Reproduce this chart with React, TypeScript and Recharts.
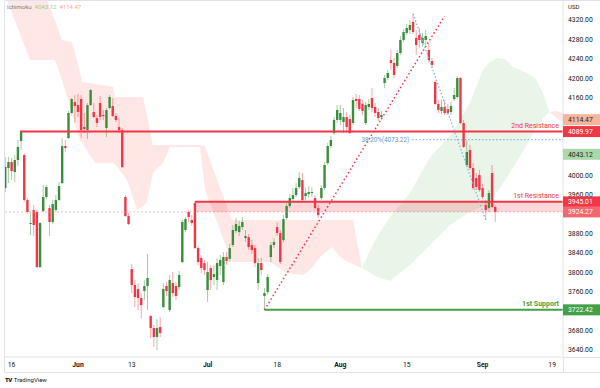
import React from 'react';
import { ComposedChart, Bar, Area, XAxis, YAxis, ReferenceLine, ReferenceArea } from 'recharts';

// ---------- candle data (two candles per trading day) ----------
const opens = [
  3973.5, 4014.8, 4027.2, 4006.6, 4031.3, 4070.5, 4041.6, 3948.8, 3899.3, 3928.2,
  3924.1, 3810.7, 3926.1, 3955.0, 3932.3, 3903.5, 3928.2, 3948.8, 3983.9, 4060.1,
  4076.6, 4128.2, 4150.9, 4144.7, 4157.1, 4099.3, 4093.1, 4144.7, 4130.3, 4117.9,
  4148.8, 4124.1, 4097.3, 4138.5, 4142.6, 4122.0, 4099.3, 4093.1, 3955.0, 3915.8,
  3806.5, 3773.5, 3765.3, 3746.7, 3761.2, 3771.5, 3709.6, 3684.9, 3666.4, 3687.0,
  3728.2, 3771.5, 3722.0, 3777.7, 3771.5, 3769.4, 3821.0, 3887.0, 3924.1, 3907.6,
  3942.6, 3849.8, 3829.2, 3818.9, 3763.2, 3808.6, 3790.1, 3783.8, 3812.7, 3779.7,
  3831.3, 3827.2, 3856.0, 3884.9, 3882.8, 3893.1, 3870.4, 3872.5, 3856.0, 3849.8,
  3777.7, 3818.9, 3750.9, 3759.1, 3831.3, 3856.0, 3893.1, 3880.8, 3866.3, 3911.7,
  3936.5, 3950.9, 3959.1, 3975.6, 3990.0, 3957.0, 3961.2, 3963.2, 3952.9, 3932.3,
  3952.9, 3973.5, 4025.1, 4060.1, 4086.9, 4113.8, 4113.8, 4109.6, 4120.0, 4115.8,
  4107.6, 4157.1, 4157.1, 4146.8, 4107.6, 4140.6, 4159.1, 4140.6, 4130.3, 4120.0,
  4190.1, 4200.4, 4237.5, 4231.3, 4225.1, 4251.9, 4278.7, 4293.2, 4299.3, 4315.8,
  4282.8, 4289.1, 4272.5, 4278.7, 4258.1, 4235.4, 4192.1, 4146.8, 4132.3, 4140.6,
  4136.4, 4130.3, 4157.1, 4161.2, 4200.4, 4107.6, 4021.0, 4051.9, 4014.8, 3994.2,
  4000.4, 3973.5, 3938.5, 3932.3, 4004.5, 3934.4,
];
const highs = [
  4037.5, 4037.5, 4035.4, 4041.6, 4072.5, 4093.1, 4045.7, 3952.9, 3924.1, 3938.5,
  3928.2, 3903.5, 3979.7, 3979.7, 3938.5, 3948.8, 3959.1, 3985.9, 4076.6, 4072.5,
  4132.3, 4159.1, 4165.3, 4167.4, 4165.3, 4128.2, 4148.8, 4177.7, 4148.8, 4124.1,
  4163.2, 4134.4, 4138.5, 4165.3, 4159.1, 4128.2, 4117.9, 4097.3, 3959.1, 3922.0,
  3816.8, 3783.8, 3777.7, 3757.0, 3783.8, 3837.5, 3711.7, 3691.1, 3703.5, 3707.6,
  3777.7, 3779.7, 3794.2, 3800.4, 3779.7, 3802.4, 3907.6, 3913.8, 3928.2, 3917.9,
  3946.7, 3853.9, 3835.4, 3825.1, 3821.0, 3814.8, 3814.8, 3829.2, 3835.4, 3841.6,
  3841.6, 3858.1, 3897.3, 3911.7, 3905.5, 3913.8, 3887.0, 3878.7, 3866.3, 3856.0,
  3829.2, 3829.2, 3767.4, 3796.2, 3862.2, 3870.4, 3903.5, 3887.0, 3917.9, 3942.6,
  3961.2, 3973.5, 3983.9, 4006.6, 4004.5, 3973.5, 3977.7, 3975.6, 3959.1, 3938.5,
  3979.7, 4027.2, 4066.3, 4080.8, 4120.0, 4144.7, 4144.7, 4138.5, 4130.3, 4124.1,
  4161.2, 4167.4, 4165.3, 4155.0, 4150.9, 4157.1, 4179.7, 4148.8, 4138.5, 4132.3,
  4206.6, 4216.9, 4258.1, 4241.6, 4258.1, 4287.0, 4301.4, 4311.7, 4320.0, 4332.3,
  4299.3, 4303.5, 4293.2, 4299.3, 4270.5, 4241.6, 4196.2, 4155.0, 4155.0, 4155.0,
  4146.8, 4150.9, 4179.7, 4204.5, 4202.5, 4113.8, 4072.5, 4062.2, 4025.1, 4004.5,
  4010.7, 3981.8, 3948.8, 3969.4, 4021.0, 3938.5,
];
const lows = [
  3965.3, 3983.9, 3990.0, 3985.9, 4019.0, 4051.9, 3944.7, 3920.0, 3876.7, 3874.6,
  3808.6, 3808.6, 3924.1, 3950.9, 3874.6, 3899.3, 3924.1, 3946.7, 3981.8, 4047.8,
  4074.6, 4124.1, 4107.6, 4120.0, 4076.6, 4086.9, 4074.6, 4142.6, 4117.9, 4099.3,
  4113.8, 4113.8, 4078.7, 4136.4, 4120.0, 4109.6, 4086.9, 4014.8, 3913.8, 3897.3,
  3757.0, 3728.2, 3722.0, 3705.5, 3742.6, 3722.0, 3664.3, 3645.7, 3639.5, 3666.4,
  3726.1, 3750.9, 3717.9, 3748.8, 3742.6, 3763.2, 3818.9, 3882.8, 3903.5, 3895.2,
  3847.8, 3814.8, 3798.3, 3794.2, 3738.5, 3763.2, 3773.5, 3763.2, 3794.2, 3773.5,
  3814.8, 3821.0, 3851.9, 3880.8, 3874.6, 3887.0, 3862.2, 3845.7, 3837.5, 3810.7,
  3763.2, 3794.2, 3722.4, 3752.9, 3821.0, 3849.8, 3874.6, 3816.8, 3862.2, 3907.6,
  3932.3, 3946.7, 3955.0, 3971.5, 3944.7, 3948.8, 3952.9, 3955.0, 3928.2, 3911.7,
  3948.8, 3969.4, 4021.0, 4056.0, 4082.8, 4107.6, 4103.5, 4086.9, 4089.0, 4084.9,
  4103.5, 4138.5, 4132.3, 4124.1, 4103.5, 4134.4, 4130.3, 4120.0, 4111.7, 4113.8,
  4179.7, 4196.2, 4216.9, 4200.4, 4221.0, 4247.8, 4274.6, 4289.1, 4291.1, 4291.1,
  4247.8, 4262.2, 4264.3, 4268.4, 4233.4, 4221.0, 4144.7, 4128.2, 4126.1, 4124.1,
  4124.1, 4124.1, 4152.9, 4157.1, 4105.5, 4056.0, 4016.9, 4010.7, 3969.4, 3969.4,
  3965.3, 3950.9, 3907.6, 3924.1, 3932.3, 3903.5,
];
const closes = [
  4016.9, 4027.2, 4008.6, 4031.3, 4058.1, 4089.0, 3948.8, 3924.1, 3901.4, 3897.3,
  3810.7, 3901.4, 3955.0, 3975.6, 3903.5, 3940.6, 3948.8, 3977.7, 4060.1, 4056.0,
  4128.2, 4157.1, 4142.6, 4130.3, 4093.1, 4095.2, 4144.7, 4175.6, 4120.0, 4107.6,
  4120.0, 4122.0, 4134.4, 4161.2, 4122.0, 4113.8, 4093.1, 4016.9, 3915.8, 3899.3,
  3773.5, 3748.8, 3746.7, 3732.3, 3771.5, 3788.0, 3684.9, 3666.4, 3684.9, 3674.6,
  3765.3, 3761.2, 3783.8, 3757.0, 3750.9, 3794.2, 3903.5, 3909.6, 3913.8, 3901.4,
  3849.8, 3821.0, 3808.6, 3804.5, 3800.4, 3783.8, 3796.2, 3818.9, 3825.1, 3831.3,
  3823.0, 3849.8, 3887.0, 3899.3, 3895.2, 3903.5, 3874.6, 3851.9, 3845.7, 3818.9,
  3818.9, 3804.5, 3757.0, 3790.1, 3856.0, 3862.2, 3880.8, 3821.0, 3909.6, 3936.5,
  3952.9, 3959.1, 3973.5, 3994.2, 3948.8, 3963.2, 3965.3, 3965.3, 3932.3, 3917.9,
  3973.5, 4021.0, 4060.1, 4072.5, 4113.8, 4134.4, 4128.2, 4120.0, 4099.3, 4086.9,
  4155.0, 4152.9, 4136.4, 4132.3, 4144.7, 4146.8, 4138.5, 4128.2, 4117.9, 4124.1,
  4200.4, 4210.7, 4231.3, 4206.6, 4251.9, 4278.7, 4295.2, 4303.5, 4309.7, 4295.2,
  4268.4, 4278.7, 4282.8, 4287.0, 4237.5, 4227.2, 4146.8, 4134.4, 4140.6, 4128.2,
  4128.2, 4142.6, 4165.3, 4200.4, 4107.6, 4058.1, 4047.8, 4014.8, 3973.5, 3975.6,
  3969.4, 3955.0, 3928.2, 3963.2, 3934.4, 3924.27,
];

// ---------- Ichimoku cloud vertices (x = candle index, incl. 26-bar lead) ----------
const bearCloud1Idx = [-0.4, 0.5, 7.8, 11.0, 13.2, 15.7, 17.9, 21.1, 23.6, 24.3, 28.4, 34.1, 34.7, 38.5, 41.7, 43.6, 44.8, 46.7, 49.9, 52.1, 61.6, 63.2, 71.7, 83.7, 89.1, 94.2, 96.4, 99.6, 103.4, 105.9, 109.0, 110.0, 112.8];
const bearCloud1SpanA = [4377.7, 4361.2, 4237.5, 4237.5, 4237.5, 4237.5, 4196.2, 4128.2, 4072.5, 4066.3, 4025.1, 4025.1, 4023.1, 3990.0, 3928.2, 3936.5, 3944.7, 4004.5, 4025.1, 4058.1, 4058.1, 3969.4, 3821.0, 3821.0, 3798.3, 3794.2, 3804.5, 3831.3, 3851.9, 3831.3, 3818.9, 3816.8, 3808.6];
const bearCloud1SpanB = [4423.1, 4416.9, 4392.2, 4381.8, 4361.2, 4320.0, 4278.7, 4274.6, 4212.8, 4192.1, 4188.0, 4181.8, 4161.2, 4161.2, 4161.2, 4161.2, 4124.1, 4062.2, 4062.2, 4062.2, 4062.2, 4058.1, 3907.6, 3907.6, 3907.6, 3907.6, 3907.6, 3907.6, 3907.6, 3907.6, 3907.6, 3907.6, 3808.6];

const bullCloudIdx = [112.8, 117.0, 121.7, 128.0, 134.4, 140.7, 147.0, 151.1, 153.3, 155.6, 158.1, 160.6, 164.4, 167.6, 170.1, 171.7, 172.3];
const bullCloudSpanA = [3808.6, 3866.3, 3913.8, 3963.2, 4037.5, 4080.8, 4148.8, 4216.9, 4233.4, 4241.6, 4239.6, 4223.1, 4212.8, 4200.4, 4169.5, 4138.5, 4130.3];
const bullCloudSpanB = [3808.6, 3792.1, 3781.8, 3814.8, 3856.0, 3897.3, 3924.1, 3936.5, 3944.7, 3965.3, 3990.0, 4014.8, 4056.0, 4093.1, 4117.9, 4128.2, 4130.3];

const bearCloud2Idx = [172.3, 174.2, 176.4, 180.9];
const bearCloud2SpanA = [4130.3, 4120.0, 4107.6, 4043.12];
const bearCloud2SpanB = [4130.3, 4132.3, 4128.2, 4114.47];

// ---------- levels & drawings ----------
const RES2 = 4089.97;
const RES1_TOP = 3945.01;
const LAST_PRICE = 3924.27;
const SUPPORT1 = 3722.42;
const LEAD1_LAST = 4043.12;
const LEAD2_LAST = 4114.47;
const FIB_382 = 4073.22;
const res2StartIdx = 4.7;
const res1StartIdx = 60;
const supportStartIdx = 82;
const trendStart = { x: 82, y: 3722.42 };
const trendEnd = { x: 138.9, y: 4328 };
const fibStart = { x: 129, y: 4333 };
const fibEnd = { x: 152, y: 3907.6 };
const fibLineStartIdx = 128.7;

// ---------- axes ----------
const timeTickIdx = [2, 23, 40, 64, 86, 106, 127, 151, 173];
const timeTickLabels = ['16', 'Jun', '13', 'Jul', '18', 'Aug', '15', 'Sep', '19'];
const monthNames = ['Jun', 'Jul', 'Aug', 'Sep'];
// regular price ticks (those hidden behind the value boxes are left out)
const priceTicks = [3640, 3680, 3760, 3800, 3840, 3880, 3960, 4000, 4160, 4200, 4240, 4280, 4320];

const X_MIN = -0.41;
const X_MAX = 176.43;
const Y_MIN = 3625.2;
const Y_MAX = 4361.2;

const GREEN = '#388e3c';
const RED = '#f23645';
const FONT = "Roboto, 'Noto Sans', sans-serif";

const candles = opens.map((o, i) => ({
  i,
  open: o,
  high: highs[i],
  low: lows[i],
  close: closes[i],
  range: [lows[i], highs[i]],
}));

const bear1Data = bearCloud1Idx.map((x, k) => ({ i: x, band: [bearCloud1SpanA[k], bearCloud1SpanB[k]] }));
const bullData = bullCloudIdx.map((x, k) => ({ i: x, band: [bullCloudSpanB[k], bullCloudSpanA[k]] }));
const bear2Data = bearCloud2Idx.map((x, k) => ({ i: x, band: [bearCloud2SpanA[k], bearCloud2SpanB[k]] }));

const axisBoxes: Record<string, { bg: string; fg: string }> = {
  [String(LEAD2_LAST)]: { bg: '#f6b59a', fg: '#1f1f1f' },
  [String(RES2)]: { bg: RED, fg: '#ffffff' },
  [String(LEAD1_LAST)]: { bg: '#a9d8ab', fg: '#1f1f1f' },
  [String(RES1_TOP)]: { bg: RED, fg: '#ffffff' },
  [String(LAST_PRICE)]: { bg: '#f5676f', fg: '#ffffff' },
  [String(SUPPORT1)]: { bg: '#43a047', fg: '#ffffff' },
};
const boxValues = [LEAD2_LAST, RES2, LEAD1_LAST, RES1_TOP, LAST_PRICE, SUPPORT1];

const Candle = (props: any) => {
  const { x, y, width, height, payload } = props;
  if (payload == null || x == null || y == null) return null;
  const top0 = Math.min(y, y + height);
  const h = Math.abs(height);
  const { open, close, high, low } = payload;
  const up = close >= open;
  const color = up ? GREEN : RED;
  const span = high - low;
  const py = (v: number) => (span === 0 ? top0 : top0 + ((high - v) / span) * h);
  const cx = x + width / 2;
  const bt = py(Math.max(open, close));
  const bb = py(Math.min(open, close));
  return (
    <g>
      <line x1={cx} x2={cx} y1={top0} y2={top0 + h} stroke={color} strokeOpacity={0.45} strokeWidth={1} />
      <rect x={cx - 1.2} y={bt} width={2.4} height={Math.max(bb - bt, 1)} fill={color} />
    </g>
  );
};

const TimeTick = (props: any) => {
  const { x, y, payload } = props;
  const k = timeTickIdx.indexOf(payload.value);
  const label = k >= 0 ? timeTickLabels[k] : '';
  const isMonth = monthNames.includes(label);
  return (
    <text x={x} y={y + 10} textAnchor="middle" fontSize={6.8} fontFamily={FONT} fill="#131722" fontWeight={isMonth ? 700 : 400}>
      {label}
    </text>
  );
};

const PriceTick = (props: any) => {
  const { x, y, payload } = props;
  const v = payload.value;
  const box = axisBoxes[String(v)];
  if (box) {
    return (
      <g>
        <rect x={x} y={y - 5.5} width={37} height={11} fill={box.bg} />
        <text x={x + 5} y={y + 2.5} fontSize={6.8} fontFamily={FONT} fill={box.fg}>
          {Number(v).toFixed(2)}
        </text>
      </g>
    );
  }
  return (
    <text x={x + 5} y={y + 2.5} fontSize={6.8} fontFamily={FONT} fill="#131722">
      {Number(v).toFixed(2)}
    </text>
  );
};

const rightLabel = (text: string, color: string, bold: boolean) => (props: any) => {
  const vb = props.viewBox;
  if (!vb) return null;
  return (
    <text x={vb.x + vb.width - 4} y={vb.y - 3.5} textAnchor="end" fontSize={7} fontFamily={FONT} fill={color} fontWeight={bold ? 700 : 400}>
      {text}
    </text>
  );
};

const fibLabel = (props: any) => {
  const vb = props.viewBox;
  if (!vb) return null;
  return (
    <text x={vb.x - 3} y={vb.y + 2.3} textAnchor="end" fontSize={6.3} fontFamily={FONT} fill="#5b9bd5">
      {`38.20%(${FIB_382.toFixed(2)})`}
    </text>
  );
};

const line = (style: React.CSSProperties): React.CSSProperties => ({ position: 'absolute', background: '#e0e3eb', ...style });

export default function App() {
  return (
    <div style={{ position: 'absolute', left: 0, top: 0, width: 600, height: 388, background: '#ffffff', overflow: 'hidden', fontFamily: FONT }}>
      <ComposedChart width={600} height={388} data={candles} margin={{ top: 0, right: 0, bottom: 16, left: 4 }}>
        <XAxis
          type="number"
          dataKey="i"
          domain={[X_MIN, X_MAX]}
          allowDataOverflow
          ticks={timeTickIdx}
          interval={0}
          tick={<TimeTick />}
          tickLine={false}
          tickSize={0}
          tickMargin={0}
          height={15}
          axisLine={{ stroke: '#e0e3eb' }}
        />
        <YAxis
          orientation="right"
          type="number"
          domain={[Y_MIN, Y_MAX]}
          allowDataOverflow
          ticks={[...priceTicks, ...boxValues]}
          interval={0}
          tick={<PriceTick />}
          tickLine={false}
          tickSize={0}
          tickMargin={0}
          width={37}
          axisLine={{ stroke: '#e0e3eb' }}
        />
        <Area data={bear1Data} dataKey="band" type="linear" stroke="none" fill="#f44336" fillOpacity={0.13} dot={false} activeDot={false} isAnimationActive={false} />
        <Area data={bullData} dataKey="band" type="linear" stroke="none" fill="#4caf50" fillOpacity={0.13} dot={false} activeDot={false} isAnimationActive={false} />
        <Area data={bear2Data} dataKey="band" type="linear" stroke="none" fill="#f44336" fillOpacity={0.13} dot={false} activeDot={false} isAnimationActive={false} />

        <ReferenceLine y={LAST_PRICE} stroke="#f58f95" strokeOpacity={0.6} strokeDasharray="2 2" strokeWidth={1} />
        <ReferenceArea x1={res1StartIdx} x2={X_MAX} y1={LAST_PRICE} y2={RES1_TOP} fill={RED} fillOpacity={0.2} stroke="none" />
        <ReferenceLine
          segment={[{ x: res1StartIdx, y: RES1_TOP }, { x: X_MAX, y: RES1_TOP }]}
          stroke={RED}
          strokeWidth={2}
          label={rightLabel('1st Resistance', RED, false)}
        />
        <ReferenceLine
          segment={[{ x: res2StartIdx, y: RES2 }, { x: X_MAX, y: RES2 }]}
          stroke={RED}
          strokeWidth={2}
          label={rightLabel('2nd Resistance', RED, false)}
        />
        <ReferenceLine
          segment={[{ x: supportStartIdx, y: SUPPORT1 }, { x: X_MAX, y: SUPPORT1 }]}
          stroke="#43a047"
          strokeWidth={2}
          label={rightLabel('1st Support', '#43a047', true)}
        />
        <ReferenceLine
          segment={[{ x: fibLineStartIdx, y: FIB_382 }, { x: X_MAX, y: FIB_382 }]}
          stroke="#6fa8dc"
          strokeWidth={1}
          strokeDasharray="1.5 2"
          label={fibLabel}
        />
        <ReferenceLine segment={[trendStart, trendEnd]} stroke={RED} strokeWidth={1.5} strokeDasharray="1.5 2.5" />
        <ReferenceLine segment={[fibStart, fibEnd]} stroke="#7fb2e5" strokeWidth={1.2} strokeDasharray="1.5 2" />

        <Bar dataKey="range" barSize={3} shape={(p: any) => <Candle {...p} />} isAnimationActive={false} />
      </ComposedChart>

      {/* frame */}
      <div style={line({ left: 4, top: 0, width: 596, height: 1 })} />
      <div style={line({ left: 4, top: 0, width: 1, height: 372 })} />
      <div style={line({ left: 563, top: 357, width: 1, height: 15 })} />
      <div style={line({ left: 563, top: 357, width: 37, height: 1 })} />
      <div style={line({ left: 4, top: 372, width: 596, height: 1 })} />

      {/* legend */}
      <div style={{ position: 'absolute', left: 7, top: 3, fontSize: 6, lineHeight: '8px', whiteSpace: 'nowrap' }}>
        <span style={{ color: '#787b86' }}>Ichimoku</span>
        <span style={{ color: '#8fcf92', marginLeft: 3 }}>{LEAD1_LAST.toFixed(2)}</span>
        <span style={{ color: '#f4a98a', marginLeft: 3 }}>{LEAD2_LAST.toFixed(2)}</span>
      </div>
      <div style={{ position: 'absolute', left: 568, top: 3, fontSize: 6, lineHeight: '8px', color: '#131722' }}>USD</div>
      <div style={{ position: 'absolute', left: 5, top: 376, fontSize: 6, lineHeight: '8px', color: '#131722', whiteSpace: 'nowrap' }}>
        <span style={{ fontWeight: 900, letterSpacing: -0.5 }}>TV</span>
        <span style={{ marginLeft: 2 }}>TradingView</span>
      </div>
    </div>
  );
}
